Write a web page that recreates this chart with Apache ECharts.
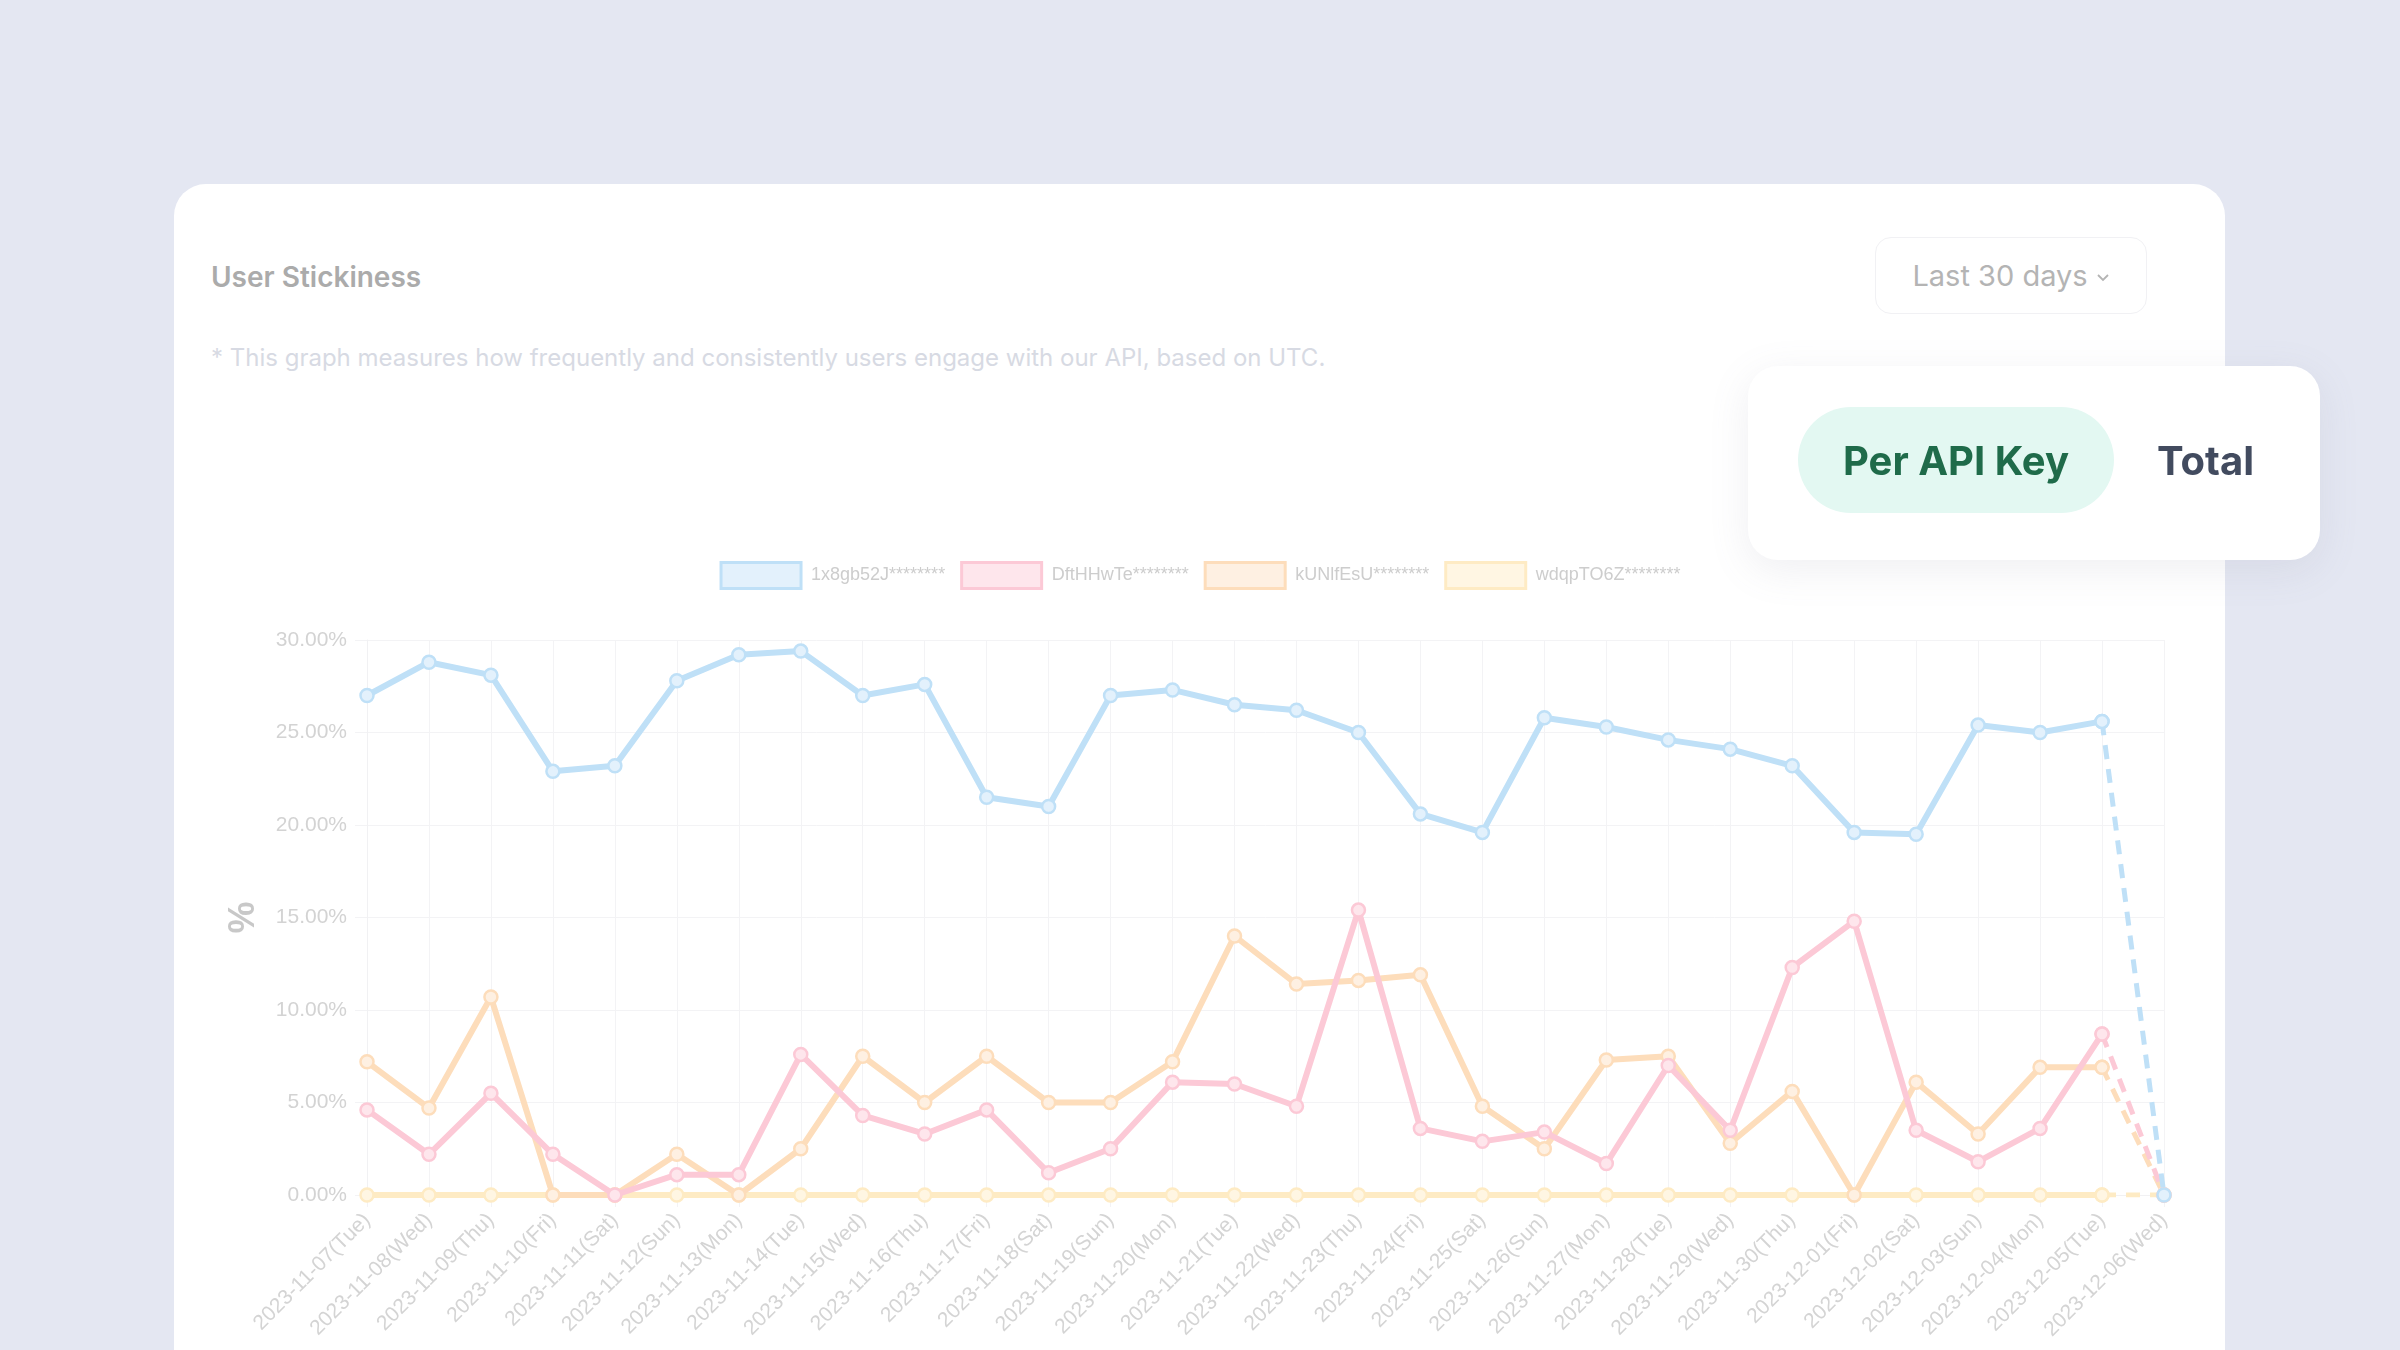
<!DOCTYPE html>
<html>
<head>
<meta charset="utf-8">
<script src="https://cdn.jsdelivr.net/npm/echarts@6/dist/echarts.min.js"></script>
<style>
  html, body { margin: 0; padding: 0; width: 2400px; height: 1350px; overflow: hidden; background: #E4E7F2; font-family: Inter, "Noto Sans", sans-serif; }
  #card { position: absolute; left: 174px; top: 184px; width: 2051px; height: 1300px; background: #fff; border-radius: 32px; }
  #title { position: absolute; left: 211px; top: 260px; font-size: 28px; font-weight: 600; color: #ABABAB; }
  #desc { position: absolute; left: 211px; top: 343px; font-size: 24px; color: #D7DAE3; }
  #dd { position: absolute; left: 1875px; top: 237px; width: 272px; height: 77px; border: 1px solid #F1F1F4; border-radius: 16px; box-sizing: border-box; color: #B4B4B4; font-size: 29px; display: flex; align-items: center; justify-content: center; }
  #dd svg { margin-left: 8px; margin-top: 4px; }
  #chart { position: absolute; left: 0; top: 0; width: 2400px; height: 1350px; }
  #pop { position: absolute; left: 1748px; top: 366px; width: 572px; height: 194px; background: #fff; border-radius: 30px; box-shadow: 0 10px 40px rgba(120,125,150,0.12); }
  #pill { position: absolute; left: 50px; top: 41px; width: 316px; height: 106px; border-radius: 53px; background: #E3F8F2; color: #1F6B4A; font-size: 40px; font-weight: 700; display: flex; align-items: center; justify-content: center; }
  #total { position: absolute; left: 409px; top: 41px; height: 106px; color: #424B5F; font-size: 40px; font-weight: 700; display: flex; align-items: center; }
</style>
</head>
<body>
<div id="card"></div>
<div id="title">User Stickiness</div>
<div id="desc">* This graph measures how frequently and consistently users engage with our API, based on UTC.</div>
<div id="dd">Last 30 days<svg width="14" height="10" viewBox="0 0 14 10"><path d="M2 2 L7 7 L12 2" fill="none" stroke="#B4B4B4" stroke-width="1.8"/></svg></div>
<div id="chart"></div>
<div id="pop"><div id="pill">Per API Key</div><div id="total">Total</div></div>
<script>
const dates = ['2023-11-07(Tue)','2023-11-08(Wed)','2023-11-09(Thu)','2023-11-10(Fri)','2023-11-11(Sat)','2023-11-12(Sun)','2023-11-13(Mon)','2023-11-14(Tue)','2023-11-15(Wed)','2023-11-16(Thu)','2023-11-17(Fri)','2023-11-18(Sat)','2023-11-19(Sun)','2023-11-20(Mon)','2023-11-21(Tue)','2023-11-22(Wed)','2023-11-23(Thu)','2023-11-24(Fri)','2023-11-25(Sat)','2023-11-26(Sun)','2023-11-27(Mon)','2023-11-28(Tue)','2023-11-29(Wed)','2023-11-30(Thu)','2023-12-01(Fri)','2023-12-02(Sat)','2023-12-03(Sun)','2023-12-04(Mon)','2023-12-05(Tue)','2023-12-06(Wed)'];
const keyNames = ['1x8gb52J********','DftHHwTe********','kUNlfEsU********','wdqpTO6Z********'];
const key1Values = [27.0,28.8,28.1,22.9,23.2,27.8,29.2,29.4,27.0,27.6,21.5,21.0,27.0,27.3,26.5,26.2,25.0,20.6,19.6,25.8,25.3,24.6,24.1,23.2,19.6,19.5,25.4,25.0,25.6,0];
const key2Values = [4.6,2.2,5.5,2.2,0,1.1,1.1,7.6,4.3,3.3,4.6,1.2,2.5,6.1,6.0,4.8,15.4,3.6,2.9,3.4,1.7,7.0,3.5,12.3,14.8,3.5,1.8,3.6,8.7,0];
const key3Values = [7.2,4.7,10.7,0,0,2.2,0,2.5,7.5,5.0,7.5,5.0,5.0,7.2,14.0,11.4,11.6,11.9,4.8,2.5,7.3,7.5,2.8,5.6,0,6.1,3.3,6.9,6.9,0];
const key4Values = [0,0,0,0,0,0,0,0,0,0,0,0,0,0,0,0,0,0,0,0,0,0,0,0,0,0,0,0,0,0];
const yTicks = [0,5,10,15,20,25,30];

const lineColors = ['#BFE0F7','#FCC9D6','#FDDDBB','#FEEBC4'];
const fillColors = ['#E3F1FC','#FEE6EC','#FEF0E2','#FFF6E3'];
const allValues = [key1Values,key2Values,key3Values,key4Values];

const n = dates.length;
const series = [];
for (let k = 3; k >= 0; k--) {
  const vals = allValues[k];
  const solid = vals.map((v,i) => i < n-1 ? v : null);
  const dashed = vals.map((v,i) => i >= n-2 ? v : null);
  const common = {
    type: 'line', name: keyNames[k], symbol: 'circle', symbolSize: 13,
    itemStyle: { color: fillColors[k], borderColor: lineColors[k], borderWidth: 2.5 },
    emphasis: { disabled: true }, z: 10 + (3-k)
  };
  series.push(Object.assign({}, common, { data: solid, lineStyle: { color: lineColors[k], width: 6 } }));
  series.push(Object.assign({}, common, { data: dashed, lineStyle: { color: lineColors[k], width: 5, type: [14, 10] } }));
}

const chart = echarts.init(document.getElementById('chart'));
chart.setOption({
  animation: false,
  backgroundColor: 'transparent',
  textStyle: { fontFamily: '"Liberation Sans", Arial, sans-serif' },
  legend: {
    top: 556, left: 'center', icon: 'rect', itemWidth: 80, itemHeight: 26, itemGap: 15,
    textStyle: { fontSize: 18, color: '#CDCDCD', fontFamily: '"Liberation Sans", Arial, sans-serif', padding: [0,0,0,5] },
    data: keyNames.map((nm,k) => ({ name: nm, itemStyle: { color: fillColors[k], borderColor: lineColors[k], borderWidth: 3 } }))
  },
  grid: { left: 367, right: 236, top: 640, bottom: 155, containLabel: false },
  xAxis: {
    type: 'category', data: dates, boundaryGap: false,
    axisLine: { show: true, lineStyle: { color: '#F1F1F3', width: 1 } },
    axisTick: { show: true, length: 12, alignWithLabel: true, lineStyle: { color: '#F3F3F5' } },
    splitLine: { show: true, lineStyle: { color: '#F3F3F5', width: 1 } },
    axisLabel: { rotate: 45, fontSize: 21, color: '#D4D4D4', margin: 22, interval: 0 }
  },
  yAxis: {
    type: 'value', min: 0, max: 30, interval: 5,
    name: '%', nameLocation: 'middle', nameGap: 105, nameRotate: 90,
    nameTextStyle: { fontSize: 36, fontWeight: 'bold', color: '#C8C8C8' },
    axisLine: { show: true, lineStyle: { color: '#F1F1F3' } },
    axisTick: { show: true, length: 12, lineStyle: { color: '#F3F3F5' } },
    splitLine: { show: true, lineStyle: { color: '#F3F3F5' } },
    axisLabel: { fontSize: 21, color: '#D3D3D3', margin: 20, formatter: v => yTicks.includes(v) ? v.toFixed(2) + '%' : '' }
  },
  series: series
});
</script>
</body>
</html>
